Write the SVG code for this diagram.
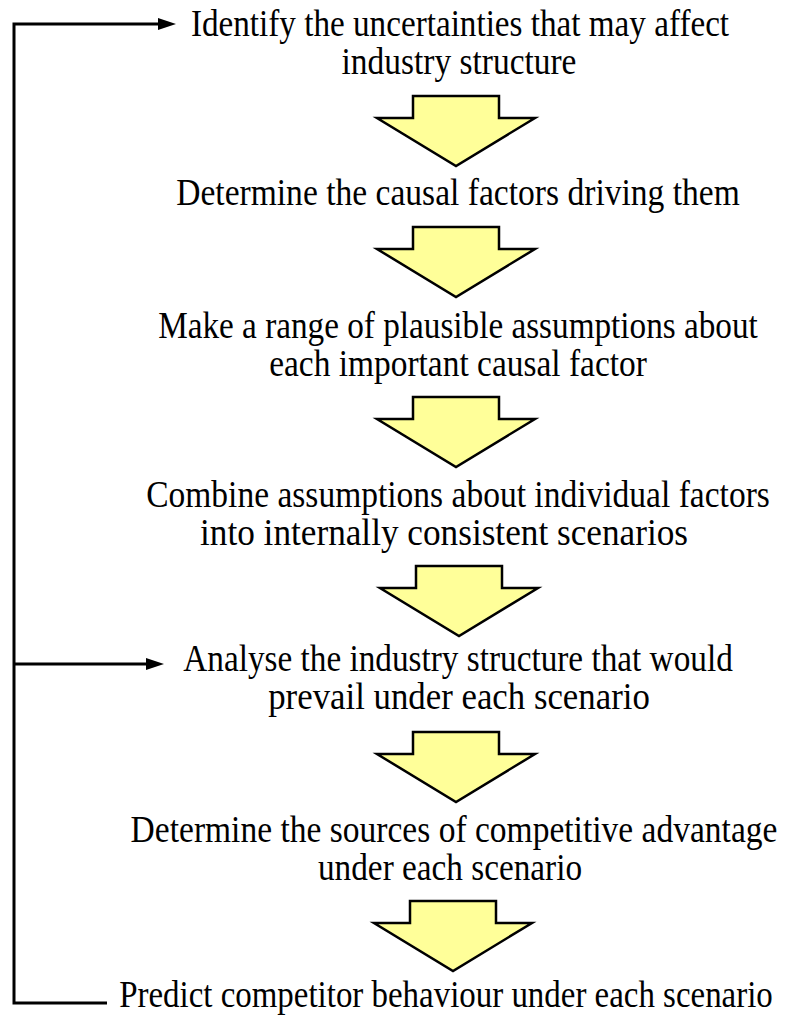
<svg xmlns="http://www.w3.org/2000/svg" width="790" height="1018" viewBox="0 0 790 1018">
<style>
.t{font-family:"Liberation Serif","Times New Roman",serif;font-size:37px;fill:#000;text-anchor:middle}
.ba{fill:#FFFF99;stroke:#000;stroke-width:2.5;stroke-linejoin:miter}
.ln{fill:none;stroke:#000;stroke-width:3}
</style>
<defs>
<path id="blk" d="M-43,0 H43 V22 H79 L0,70 L-79,22 H-43 Z"/>
</defs>
<g id="connectors">
<polyline class="ln" points="107,1003 14,1003 14,24 160,24"/>
<path d="M158,18 L176,24 L158,30 Z" fill="#000"/>
<line class="ln" x1="14" y1="664" x2="148" y2="664"/>
<path d="M146,658 L164,664 L146,670 Z" fill="#000"/>
</g>
<g id="arrow1"><use href="#blk" class="ba" x="456" y="96"/></g>
<g id="arrow2"><use href="#blk" class="ba" x="456" y="227"/></g>
<g id="arrow3"><use href="#blk" class="ba" x="456" y="397"/></g>
<g id="arrow4"><use href="#blk" class="ba" x="459" y="566"/></g>
<g id="arrow5"><use href="#blk" class="ba" x="456" y="732"/></g>
<g id="arrow6"><use href="#blk" class="ba" x="453" y="901"/></g>
<g id="step1">
<text class="t" x="0" y="0" transform="translate(460,36) scale(0.897,1)">Identify the uncertainties that may affect</text>
<text class="t" x="0" y="0" transform="translate(459,74) scale(0.904,1)">industry structure</text>
</g>
<g id="step2">
<text class="t" x="0" y="0" transform="translate(458,205) scale(0.907,1)">Determine the causal factors driving them</text>
</g>
<g id="step3">
<text class="t" x="0" y="0" transform="translate(458,338) scale(0.898,1)">Make a range of plausible assumptions about</text>
<text class="t" x="0" y="0" transform="translate(458,376) scale(0.904,1)">each important causal factor</text>
</g>
<g id="step4">
<text class="t" x="0" y="0" transform="translate(458,507) scale(0.906,1)">Combine assumptions about individual factors</text>
<text class="t" x="0" y="0" transform="translate(444,545) scale(0.952,1)">into internally consistent scenarios</text>
</g>
<g id="step5">
<text class="t" x="0" y="0" transform="translate(458,671) scale(0.899,1)">Analyse the industry structure that would</text>
<text class="t" x="0" y="0" transform="translate(459,709) scale(0.941,1)">prevail under each scenario</text>
</g>
<g id="step6">
<text class="t" x="0" y="0" transform="translate(454,842) scale(0.906,1)">Determine the sources of competitive advantage</text>
<text class="t" x="0" y="0" transform="translate(450,880) scale(0.899,1)">under each scenario</text>
</g>
<g id="step7">
<text class="t" x="0" y="0" transform="translate(446,1007) scale(0.89,1)">Predict competitor behaviour under each scenario</text>
</g>
</svg>
